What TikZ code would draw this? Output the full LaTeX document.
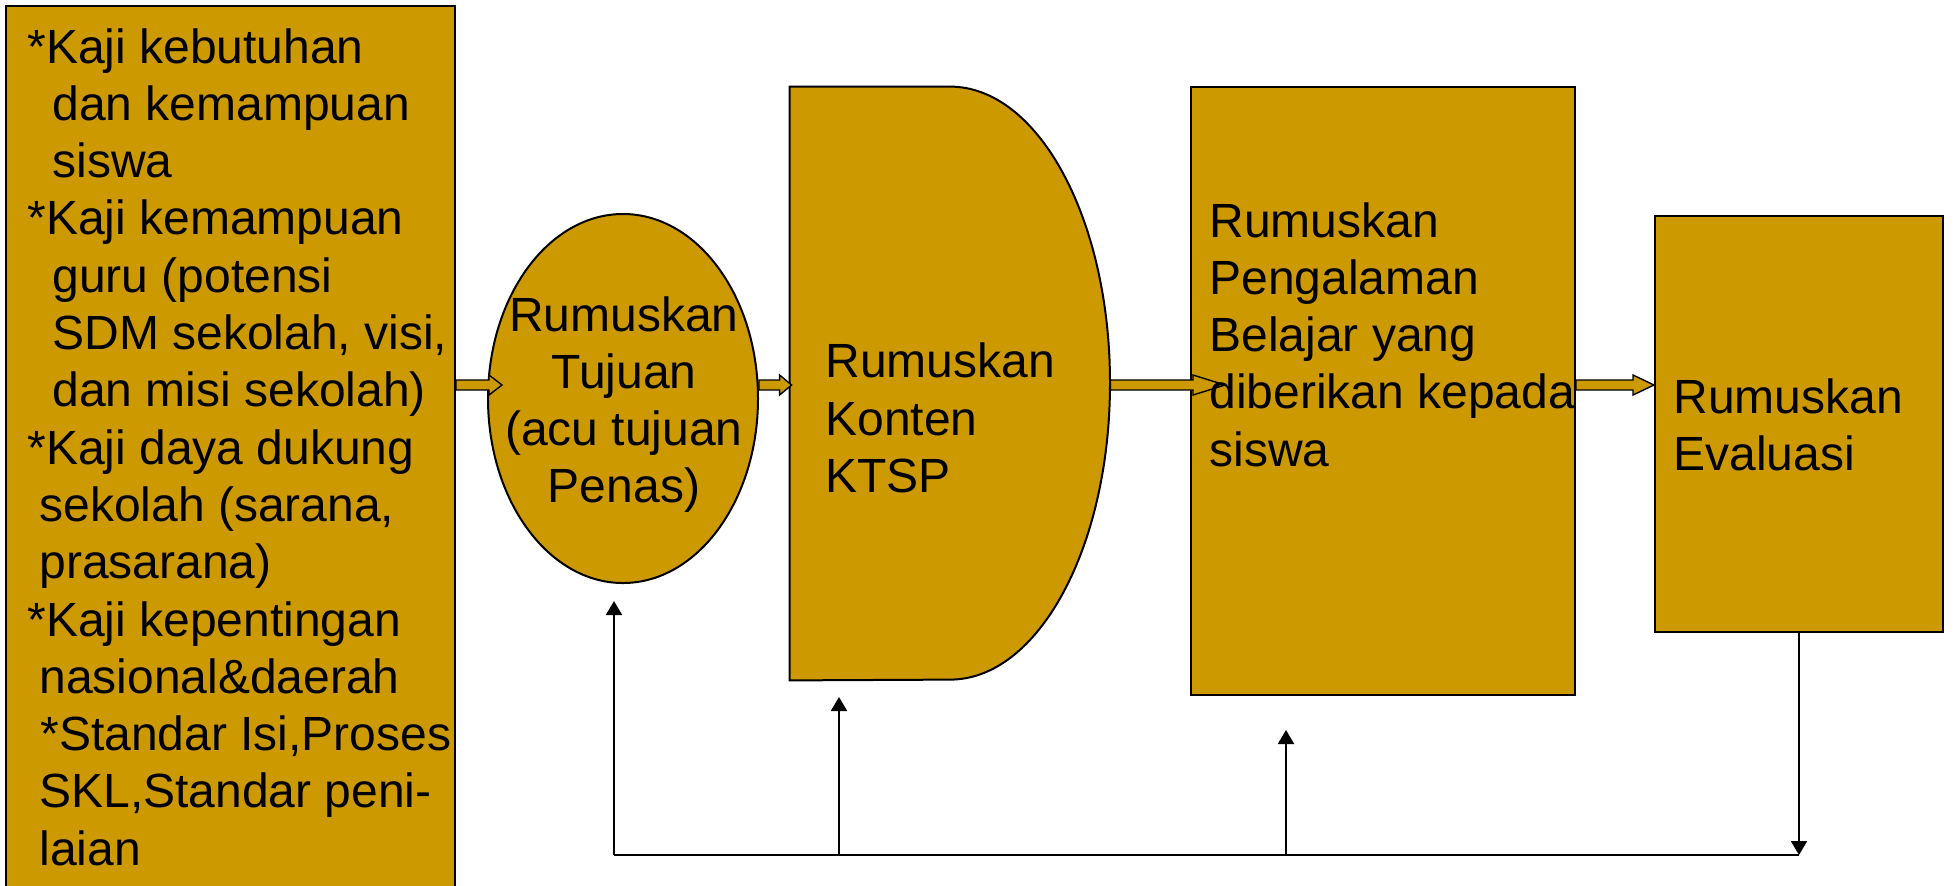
\documentclass[tikz,border=0pt]{standalone}
\usepackage{fontspec}
\setmainfont{Liberation Sans}
\usetikzlibrary{shapes.geometric,arrows.meta,calc}
\definecolor{gold}{RGB}{204,153,0}
\newcommand{\fatarr}[3]{\draw[fat] ($(#1)+(0,-5)$) -- ($(#2)+(-#3,-5)$) -- ($(#2)+(-#3,-10)$) -- (#2) -- ($(#2)+(-#3,10)$) -- ($(#2)+(-#3,5)$) -- ($(#1)+(0,5)$) -- cycle;}
\begin{document}
\begin{tikzpicture}[x=0.5pt,y=-0.5pt,
  box/.style={draw=black, fill=gold, line width=1pt, inner sep=0pt},
  txt/.style={anchor=base west, inner sep=0pt, font=\fontsize{24pt}{28.65pt}\selectfont},
  ctxt/.style={anchor=base, inner sep=0pt, font=\fontsize{24pt}{28.65pt}\selectfont},
  fat/.style={draw=black, fill=gold, line width=0.7pt, line join=miter},
  fb/.style={line width=1pt, -{Triangle[length=7pt,width=8pt]}}]
\useasboundingbox (0,0) rectangle (1954,885);

% shapes
\node[box, minimum width=224.5pt, minimum height=444.5pt] (left) at (230.5,450.5) {};
\node[box, ellipse, minimum width=135pt, minimum height=184.5pt] (ell) at (623,398.5) {};
\node[inner sep=0pt, minimum width=160pt, minimum height=296.5pt] (cont) at (950,383.5) {};
\draw[box] (cont.north west) -- (cont.north) arc[start angle=90, end angle=-90, x radius=80pt, y radius=148.25pt] -- (cont.south west) -- cycle;
\node[box, minimum width=192pt, minimum height=304pt] (exp) at (1383,391) {};
\node[box, minimum width=144pt, minimum height=208pt] (eval) at (1799,424) {};

% fat arrows
\coordinate (ay) at (0,385);
\coordinate (s1) at (left.east |- ay);
\coordinate (t1) at ($(ell.west |- ay)+(15,0)$);
\coordinate (s2) at (ell.east |- ay);
\coordinate (t2) at ($(cont.west |- ay)+(2,0)$);
\coordinate (s3) at (cont.east |- ay);
\coordinate (t3) at ($(exp.west |- ay)+(35,0)$);
\coordinate (s4) at (exp.east |- ay);
\coordinate (t4) at (eval.west |- ay);
\fatarr{s1}{t1}{13}
\fatarr{s2}{t2}{12}
\fatarr{s3}{t3}{32}
\fatarr{s4}{t4}{21}

% feedback
\coordinate (b1) at (614,855);
\coordinate (b2) at (839,855);
\coordinate (b3) at (1286,855);
\coordinate (b4) at (eval.south |- b1);
\coordinate (u1) at (614,601);
\coordinate (u2) at (839,697);
\coordinate (u3) at (1286,730);
\draw[line width=1pt] (b1) -- (b4);
\draw[fb] (b1) -- (u1);
\draw[fb] (b2) -- (u2);
\draw[fb] (b3) -- (u3);
\draw[fb] (eval.south) -- (b4);

% left box text
\node[txt] (l1) at (27,63) {*Kaji kebutuhan};
\node[txt] (l2) at (52,120.3) {dan kemampuan};
\node[txt] (l3) at (52,177.6) {siswa};
\node[txt] (l4) at (27,234.9) {*Kaji kemampuan};
\node[txt] (l5) at (52,292.2) {guru (potensi};
\node[txt] (l6) at (52,349.5) {SDM sekolah, visi,};
\node[txt] (l7) at (52,406.8) {dan misi sekolah)};
\node[txt] (l8) at (27,464.1) {*Kaji daya dukung};
\node[txt] (l9) at (39,521.4) {sekolah (sarana,};
\node[txt] (l10) at (39,578.7) {prasarana)};
\node[txt] (l11) at (27,636) {*Kaji kepentingan};
\node[txt] (l12) at (39,693.3) {nasional\&daerah};
\node[txt] (l13) at (40,750.6) {*Standar Isi,Proses};
\node[txt] (l14) at (39,807.9) {SKL,Standar peni-};
\node[txt] (l15) at (39,865.2) {laian};

% ellipse text
\node[ctxt] (e1) at (624,331) {Rumuskan};
\node[ctxt] (e2) at (624,388) {Tujuan};
\node[ctxt] (e3) at (624,445) {(acu tujuan};
\node[ctxt] (e4) at (624,502) {Penas)};

% content text
\node[txt] (c1) at (825,377) {Rumuskan};
\node[txt] (c2) at (825,435) {Konten};
\node[txt] (c3) at (825,492) {KTSP};

% experience text
\node[txt] (x1) at (1209,237) {Rumuskan};
\node[txt] (x2) at (1209,294) {Pengalaman};
\node[txt] (x3) at (1209,351) {Belajar yang};
\node[txt] (x4) at (1209,408) {diberikan kepada};
\node[txt] (x5) at (1209,466) {siswa};

% evaluation text
\node[txt] (v1) at (1673,413) {Rumuskan};
\node[txt] (v2) at (1673,470) {Evaluasi};
\end{tikzpicture}
\end{document}
